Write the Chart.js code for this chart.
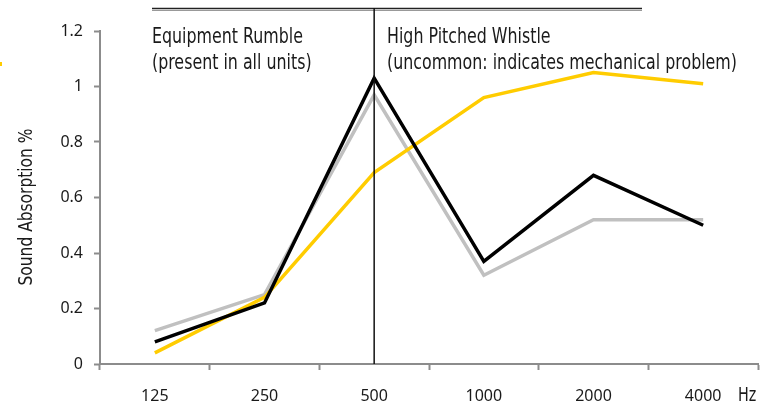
<!DOCTYPE html>
<html>
<head>
<meta charset="utf-8">
<script src="https://cdn.jsdelivr.net/npm/chart.js@4"></script>
<style>
  html, body { margin: 0; padding: 0; background: #fff; }
  #chart { display: block; }
</style>
</head>
<body>
<canvas id="chart" width="762" height="406"></canvas>
<script>
// Frequency bands (Hz) and absorption values
const frequencies = ['125', '250', '500', '1000', '2000', '4000'];
const blackSeries = [0.08, 0.22, 1.03, 0.37, 0.68, 0.50];
const yellowSeries = [0.04, 0.24, 0.69, 0.96, 1.05, 1.01];
const graySeries = [0.12, 0.25, 0.97, 0.32, 0.52, 0.52];
const yTicks = [0, 0.2, 0.4, 0.6, 0.8, 1, 1.2];

const AXIS_COLOR = '#8c8c8c';
const NARROW = '"Liberation Sans Narrow", "DejaVu Sans Condensed", "DejaVu Sans", sans-serif';

// Draws narrow text squeezed to roughly the reference proportions
function narrowText(ctx, text, x, y, size, squeeze) {
    ctx.save();
    ctx.font = `${size}px ${NARROW}`;
    ctx.translate(x, y);
    ctx.scale(squeeze, 1);
    ctx.fillText(text, 0, 0);
    ctx.restore();
}

const annotations = {
    id: 'annotations',
    afterDraw(chart) {
        const { ctx, chartArea, scales } = chart;
        const xMid = scales.x.getPixelForValue(2);

        ctx.save();
        // double rule across the top
        ctx.strokeStyle = '#222';
        ctx.lineWidth = 1.5;
        ctx.beginPath();
        ctx.moveTo(152, 8.5);
        ctx.lineTo(642, 8.5);
        ctx.stroke();
        ctx.strokeStyle = '#999';
        ctx.lineWidth = 1;
        ctx.beginPath();
        ctx.moveTo(152, 10.5);
        ctx.lineTo(642, 10.5);
        ctx.stroke();

        // divider at 500 Hz
        ctx.strokeStyle = '#111';
        ctx.lineWidth = 1.5;
        ctx.beginPath();
        ctx.moveTo(xMid, 8);
        ctx.lineTo(xMid, chartArea.bottom);
        ctx.stroke();

        // squeeze factor so "Equipment Rumble" is about 151px wide
        ctx.font = `21px ${NARROW}`;
        const sq = 151 / ctx.measureText('Equipment Rumble').width;

        ctx.fillStyle = '#1a1a1a';
        ctx.textBaseline = 'alphabetic';
        ctx.textAlign = 'left';
        narrowText(ctx, 'Equipment Rumble', 152, 43, 21, sq);
        narrowText(ctx, '(present in all units)', 152, 69, 21, sq);
        narrowText(ctx, 'High Pitched Whistle', 387, 43, 21, sq);
        narrowText(ctx, '(uncommon: indicates mechanical problem)', 387, 69, 21, sq);

        // unit label
        narrowText(ctx, 'Hz', 738, 401, 19, sq);

        // y axis title, about 157px long
        ctx.save();
        ctx.font = `19px ${NARROW}`;
        const tq = 157 / ctx.measureText('Sound Absorption %').width;
        ctx.translate(32, 207);
        ctx.rotate(-Math.PI / 2);
        ctx.textAlign = 'center';
        ctx.scale(tq, 1);
        ctx.fillText('Sound Absorption %', 0, 0);
        ctx.restore();

        // stray legend mark at the left edge
        ctx.fillStyle = '#ffcc00';
        ctx.fillRect(0, 62, 2, 4);
        ctx.restore();
    }
};

const line = (data, color) => ({
    data,
    borderColor: color,
    backgroundColor: color,
    borderWidth: 3.5,
    pointRadius: 0,
    borderJoinStyle: 'miter',
    borderCapStyle: 'butt',
    tension: 0,
    fill: false
});

new Chart(document.getElementById('chart'), {
    type: 'line',
    data: {
        labels: frequencies,
        datasets: [
            line(blackSeries, '#000000'),
            line(yellowSeries, '#ffcc00'),
            line(graySeries, '#c0c0c0')
        ]
    },
    options: {
        responsive: false,
        animation: false,
        devicePixelRatio: 1,
        layout: { padding: { top: 31, right: 4, left: 0, bottom: 0 } },
        plugins: {
            legend: { display: false },
            tooltip: { enabled: false }
        },
        scales: {
            x: {
                offset: true,
                grid: {
                    offset: true,
                    drawOnChartArea: false,
                    drawTicks: true,
                    tickLength: 6,
                    tickWidth: 2,
                    tickColor: AXIS_COLOR
                },
                border: { color: AXIS_COLOR, width: 2 },
                ticks: {
                    color: '#1a1a1a',
                    padding: 17,
                    maxRotation: 0,
                    font: { family: '"Noto Sans", sans-serif', size: 16 }
                },
                afterFit(axis) { axis.height = 42; }
            },
            y: {
                min: 0,
                max: 1.2,
                afterBuildTicks(axis) {
                    axis.ticks = yTicks.map(v => ({ value: v }));
                },
                grid: {
                    drawOnChartArea: false,
                    drawTicks: true,
                    tickLength: 6,
                    tickWidth: 2,
                    tickColor: AXIS_COLOR
                },
                border: { color: AXIS_COLOR, width: 2 },
                ticks: {
                    color: '#1a1a1a',
                    padding: 11,
                    font: { family: '"Noto Sans", sans-serif', size: 16 },
                    callback: v => String(v)
                },
                afterFit(axis) { axis.width = 100; }
            }
        }
    },
    plugins: [annotations]
});
</script>
</body>
</html>
